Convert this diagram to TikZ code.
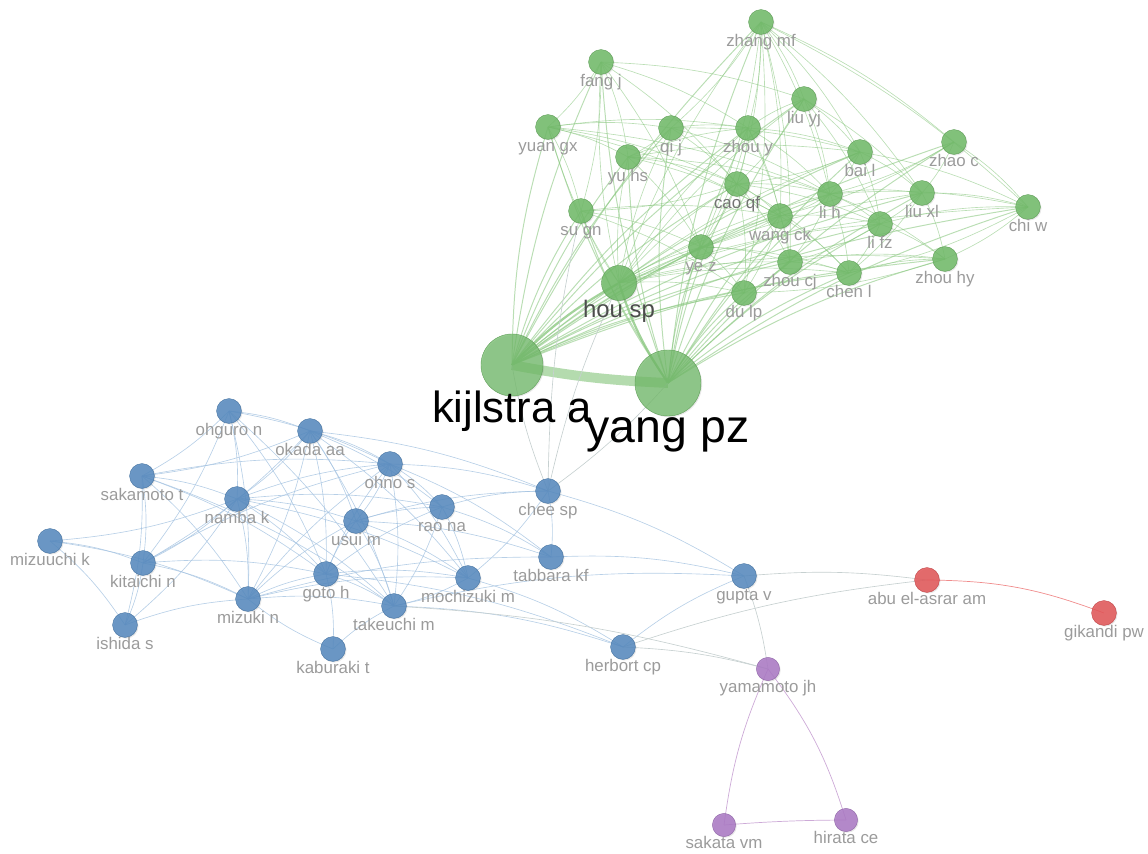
\documentclass[tikz,border=0pt]{standalone}
\usepackage{fontspec}
\setmainfont{Liberation Sans}
\usetikzlibrary{backgrounds,shadows}

\definecolor{gfill}{RGB}{112,186,104}
\definecolor{bfill}{RGB}{84,136,190}
\definecolor{rfill}{RGB}{226,84,86}
\definecolor{pfill}{RGB}{170,120,196}
\definecolor{labgray}{RGB}{155,155,155}
\definecolor{gline}{RGB}{140,200,130}
\definecolor{bline}{RGB}{165,195,225}
\definecolor{xline}{RGB}{198,208,208}
\definecolor{rline}{RGB}{240,140,140}
\definecolor{pline}{RGB}{205,170,215}

\begin{document}
\begin{tikzpicture}[
    x=0.025cm, y=-0.025cm,
    author/.style={circle, inner sep=0pt, minimum size=0.62cm, fill opacity=0.85, line width=0.3pt,
        drop shadow={opacity=0.18, shadow xshift=0.8pt, shadow yshift=-0.8pt}},
    gnode/.style={author, fill=gfill, draw=gfill!85!black},
    bnode/.style={author, fill=bfill, draw=bfill!85!black},
    rnode/.style={author, fill=rfill, draw=rfill!85!black},
    pnode/.style={author, fill=pfill, draw=pfill!85!black},
    lab/.style={font=\fontsize{12}{14}\selectfont, text=labgray, text opacity=1, inner sep=0pt,
        text height=8.6pt, text depth=2.4pt, label distance=-0.7pt},
    gedge/.style={draw=gline, line width=0.45pt, opacity=0.6, bend left=8},
    bedge/.style={draw=bline, line width=0.45pt, opacity=0.8, bend left=8},
    xedge/.style={draw=xline, line width=0.45pt, bend left=6},
    redge/.style={draw=rline, line width=0.5pt},
    pedge/.style={draw=pline, line width=0.5pt}
]
    \useasboundingbox (0,0) rectangle (1148,853);

    % ==================== GREEN CLUSTER ====================
    \node[gnode, label={[lab]below:zhang mf}] (zhangmf) at (761,22) {};
    \node[gnode, label={[lab]below:fang j}] (fangj) at (601,62) {};
    \node[gnode, label={[lab]below:liu yj}] (liuyj) at (804,99) {};
    \node[gnode, label={[lab]below:yuan gx}] (yuangx) at (548,127) {};
    \node[gnode, label={[lab]below:qi j}] (qij) at (671,128) {};
    \node[gnode, label={[lab]below:zhou y}] (zhouy) at (748,128) {};
    \node[gnode, label={[lab]below:yu hs}] (yuhs) at (628,157) {};
    \node[gnode, label={[lab]below:bai l}] (bail) at (860,152) {};
    \node[gnode, label={[lab]below:zhao c}] (zhaoc) at (954,142) {};
    \node[gnode, label={[lab, text=black!55]below:cao qf}] (caoqf) at (737,184) {};
    \node[gnode, label={[lab]below:li h}] (lih) at (830,194) {};
    \node[gnode, label={[lab]below:liu xl}] (liuxl) at (922,193) {};
    \node[gnode, label={[lab]below:su gn}] (sugn) at (581,211) {};
    \node[gnode, label={[lab]below:wang ck}] (wangck) at (780,216) {};
    \node[gnode, label={[lab]below:li fz}] (lifz) at (880,224) {};
    \node[gnode, label={[lab]below:chi w}] (chiw) at (1028,207) {};
    \node[gnode, label={[lab]below:ye z}] (yez) at (701,247) {};
    \node[gnode, label={[lab]below:zhou cj}] (zhoucj) at (790,262) {};
    \node[gnode, label={[lab]below:chen l}] (chenl) at (849,273) {};
    \node[gnode, label={[lab]below:zhou hy}] (zhouhy) at (945,259) {};
    \node[gnode, label={[lab]below:du lp}] (dulp) at (744,293) {};
    \node[gnode, minimum size=0.875cm,
        label={[lab, font=\fontsize{17}{20}\selectfont, text=black!70, text height=12.2pt, label distance=-0.4pt]below:hou sp}] (housp) at (619,283) {};
    \node[gnode, minimum size=1.55cm, fill opacity=0.75,
        label={[lab, font=\fontsize{31}{36}\selectfont, text=black, text height=22.3pt, text depth=6pt, label distance=-3.9pt]below:kijlstra a}] (kijlstra) at (512,365) {};
    \node[gnode, minimum size=1.65cm, fill opacity=0.75,
        label={[lab, font=\fontsize{33}{38}\selectfont, text=black, text height=23.8pt, text depth=6pt, label distance=-5.3pt]below:yang pz}] (yangpz) at (668,383) {};

    % ==================== BLUE CLUSTER ====================
    \node[bnode, label={[lab]below:ohguro n}] (ohguro) at (229,411) {};
    \node[bnode, label={[lab]below:okada aa}] (okada) at (310,431) {};
    \node[bnode, label={[lab]below:sakamoto t}] (sakamoto) at (142,476) {};
    \node[bnode, label={[lab]below:namba k}] (namba) at (237,499) {};
    \node[bnode, label={[lab]below:ohno s}] (ohno) at (390,464) {};
    \node[bnode, label={[lab]below:rao na}] (raona) at (442,507) {};
    \node[bnode, label={[lab]below:usui m}] (usui) at (356,521) {};
    \node[bnode, label={[lab]below:chee sp}] (chee) at (548,491) {};
    \node[bnode, label={[lab]below:mizuuchi k}] (mizuuchi) at (50,541) {};
    \node[bnode, label={[lab]below:kitaichi n}] (kitaichi) at (143,563) {};
    \node[bnode, label={[lab]below:tabbara kf}] (tabbara) at (551,557) {};
    \node[bnode, label={[lab]below:goto h}] (goto) at (326,574) {};
    \node[bnode, label={[lab]below:mochizuki m}] (mochizuki) at (468,578) {};
    \node[bnode, label={[lab]below:gupta v}] (gupta) at (744,576) {};
    \node[bnode, label={[lab]below:mizuki n}] (mizuki) at (248,599) {};
    \node[bnode, label={[lab]below:takeuchi m}] (takeuchi) at (394,606) {};
    \node[bnode, label={[lab]below:ishida s}] (ishida) at (125,625) {};
    \node[bnode, label={[lab]below:kaburaki t}] (kaburaki) at (333,649) {};
    \node[bnode, label={[lab]below:herbort cp}] (herbort) at (623,647) {};

    % ==================== RED / PURPLE ====================
    \node[rnode, label={[lab]below:abu el-asrar am}] (abu) at (927,580) {};
    \node[rnode, label={[lab]below:gikandi pw}] (gikandi) at (1104,613) {};
    \node[pnode, minimum size=0.58cm, label={[lab]below:yamamoto jh}] (yamamoto) at (768,669) {};
    \node[pnode, minimum size=0.58cm, label={[lab]below:sakata vm}] (sakata) at (724,825) {};
    \node[pnode, minimum size=0.58cm, label={[lab]below:hirata ce}] (hirata) at (846,820) {};

    \begin{pgfonlayer}{background}
    % Green links (hubs first)
    \foreach \b in {zhangmf,fangj,liuyj,yuangx,qij,zhouy,yuhs,bail,zhaoc,caoqf,lih,liuxl,sugn,wangck,lifz,chiw,yez,zhoucj,chenl,zhouhy,dulp} {
        \draw[gedge, line width=0.7pt] (kijlstra.center) to (\b.center);
        \draw[gedge, line width=0.7pt] (yangpz.center) to (\b.center);
    }
    \foreach \b in {zhangmf,fangj,liuyj,yuangx,qij,zhouy,yuhs,bail,caoqf,lih,liuxl,sugn,wangck,lifz,chiw,yez,zhoucj,chenl,zhouhy,dulp}
        \draw[gedge] (housp.center) to (\b.center);
    \draw[gedge, line width=1.6pt, opacity=0.8] (kijlstra.center) to (housp.center);
    \draw[gedge, line width=1.6pt, opacity=0.8] (yangpz.center) to (housp.center);
    \draw[draw=gline, line width=7pt, opacity=0.65] (kijlstra.center) to[bend right=4] (yangpz.center);

    \foreach \a/\b in {zhangmf/liuyj, zhangmf/qij, zhangmf/zhouy, zhangmf/caoqf, zhangmf/lih, zhangmf/bail,
        zhangmf/wangck, zhangmf/chiw, zhangmf/yez, zhangmf/zhoucj, zhangmf/dulp, zhangmf/liuxl,
        fangj/yuangx, fangj/yuhs, fangj/liuyj, fangj/sugn, fangj/caoqf, fangj/yez, fangj/zhouy,
        yuangx/qij, yuangx/zhouy, yuangx/yuhs, yuangx/sugn, yuangx/caoqf, yuangx/wangck, yuangx/lih,
        qij/zhouy, qij/yuhs, qij/caoqf, qij/lih, qij/bail,
        zhouy/liuyj, zhouy/caoqf, zhouy/bail, zhouy/lih, zhouy/wangck, zhouy/yez, zhouy/zhoucj,
        liuyj/bail, liuyj/lih, liuyj/caoqf, liuyj/liuxl, liuyj/lifz,
        yuhs/caoqf, yuhs/wangck, yuhs/bail, yuhs/lih, yuhs/zhouy, yuhs/yez,
        bail/lih, bail/liuxl, bail/lifz, bail/caoqf, bail/chiw,
        zhaoc/chiw, zhaoc/lih, zhaoc/wangck, zhaoc/liuxl,
        caoqf/lih, caoqf/wangck, caoqf/yez, caoqf/zhoucj, caoqf/dulp, caoqf/chenl, caoqf/lifz, caoqf/sugn,
        lih/liuxl, lih/lifz, lih/wangck, lih/zhoucj, lih/chenl, lih/zhouhy, lih/chiw,
        liuxl/chiw, liuxl/lifz, liuxl/zhouhy, liuxl/chenl,
        sugn/wangck, sugn/yez, sugn/dulp,
        wangck/yez, wangck/zhoucj, wangck/lifz, wangck/chenl, wangck/dulp,
        lifz/chenl, lifz/zhouhy, lifz/chiw, lifz/zhoucj,
        chiw/zhouhy, chiw/chenl, zhangmf/zhaoc,
        yez/zhoucj, yez/dulp, yez/chenl, zhoucj/chenl, zhoucj/dulp, zhoucj/zhouhy,
        chenl/zhouhy, zhouhy/dulp}
        \draw[gedge] (\a.center) to (\b.center);

    % Blue links
    \foreach \a/\b in {ohguro/okada, ohguro/sakamoto, ohguro/namba, ohguro/mizuki, ohguro/goto, ohguro/ohno,
        ohguro/kitaichi, ohguro/takeuchi,
        okada/sakamoto, okada/namba, okada/ohno, okada/usui, okada/goto, okada/mizuki, okada/takeuchi,
        okada/chee, okada/mochizuki, okada/raona, okada/kitaichi,
        sakamoto/namba, sakamoto/kitaichi, sakamoto/ohno, sakamoto/ishida, sakamoto/takeuchi,
        sakamoto/mizuki, sakamoto/goto,
        namba/mizuuchi, namba/kitaichi, namba/mizuki, namba/goto, namba/ohno, namba/usui,
        namba/takeuchi, namba/raona, namba/ishida, namba/mochizuki,
        mizuuchi/kitaichi, mizuuchi/ishida, mizuuchi/mizuki,
        kitaichi/ishida, kitaichi/mizuki, kitaichi/ohno, kitaichi/goto,
        ishida/mizuki, mizuki/goto, mizuki/usui, mizuki/takeuchi, mizuki/ohno, mizuki/mochizuki,
        mizuki/tabbara, goto/usui, goto/takeuchi, goto/mochizuki, goto/ohno, goto/raona, goto/kaburaki,
        kaburaki/takeuchi, kaburaki/mizuki,
        ohno/usui, ohno/raona, ohno/chee, ohno/mochizuki, ohno/tabbara, ohno/takeuchi,
        usui/raona, usui/takeuchi, usui/mochizuki, usui/chee, usui/tabbara,
        raona/chee, raona/mochizuki, raona/takeuchi, raona/tabbara,
        chee/tabbara, chee/mochizuki, mochizuki/takeuchi,
        chee/gupta, tabbara/gupta, takeuchi/gupta, herbort/gupta,
        takeuchi/herbort, mochizuki/herbort, goto/herbort}
        \draw[bedge] (\a.center) to (\b.center);

    % Links between clusters
    \foreach \a/\b in {chee/kijlstra, yangpz/chee, chee/housp, chee/sugn,
        gupta/abu, herbort/abu, gupta/yamamoto, herbort/yamamoto, takeuchi/yamamoto}
        \draw[xedge] (\a.center) to (\b.center);

    \draw[redge] (abu.center) to[bend left=10] (gikandi.center);
    \draw[pedge] (sakata.center) to[bend left=8] (yamamoto.center);
    \draw[pedge] (yamamoto.center) to[bend left=10] (hirata.center);
    \draw[pedge] (sakata.center) to[bend left=2] (hirata.center);
    \end{pgfonlayer}

\end{tikzpicture}
\end{document}
